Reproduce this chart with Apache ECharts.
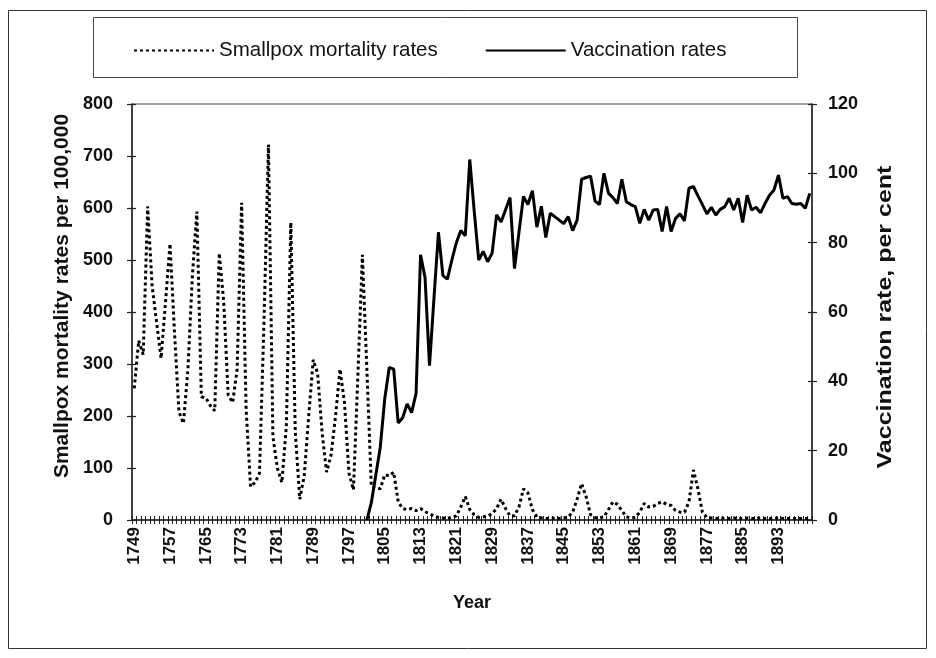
<!DOCTYPE html>
<html><head><meta charset="utf-8">
<script src="https://cdn.jsdelivr.net/npm/echarts@6/dist/echarts.min.js"></script>
<style>html,body{margin:0;padding:0;background:#fff}#c{width:936px;height:658px}</style>
</head><body><div id="c"></div>
<script>
// Categories: every year 1749..1900
const firstYear = 1749, lastYear = 1900;
const years = [];
for (let y = firstYear; y <= lastYear; y++) years.push(String(y));

// Smallpox mortality rates per 100,000 (1749..1900)
const mortality = [
 253,345,318,603,450,380,311,420,531,360,
 208,186,290,470,593,237,235,220,210,513,
 420,240,226,290,610,215,64,72,90,380,
 722,160,100,72,180,572,170,40,85,200,
 308,282,167,92,125,200,290,225,90,58,
 280,510,290,64,62,60,87,85,92,35,
 22,20,22,18,22,16,12,8,5,4,
 3,5,8,25,45,20,10,5,6,8,
 12,22,40,22,8,8,25,60,52,20,
 6,4,3,3,4,3,4,6,15,40,
 70,45,10,5,4,6,20,35,30,18,
 6,4,5,15,32,25,26,32,35,30,
 28,18,15,15,35,96,60,15,5,4,
 3,4,3,3,4,3,3,4,3,3,
 4,3,3,3,4,3,3,3,3,3,
 3,3
];

// Vaccination rates, per cent (1801..1900)
const vaccinationFirstYear = 1801;
const vaccination = [
 0,5,13,21,35,44,43.5,28,29.5,33.5,
 31,36.5,76.5,70,44.5,64,83,70.5,69.5,75,
 80,83.5,82,104,89,75,77.5,74.5,77,88,
 86,89.5,93,72.5,83,93.3,91,95,84.5,90.5,
 81.5,88.5,87.5,86.5,85.5,87.5,83.5,86.5,98.3,98.8,
 99.2,92,91,100,94.3,93,91.3,98.3,91.8,91,
 90.4,85.6,89.6,86.5,89.4,89.6,83.2,90.4,83.2,87,
 88.3,86.3,95.7,96.2,93.5,91,88.3,90.2,88,89.6,
 90.4,92.8,89.4,92.8,85.8,93.7,89.4,90.2,88.6,91.3,
 93.7,95.2,99.5,92.8,93.3,91.3,91.1,91.3,89.9,94.2
];

const leftMax = 800, leftStep = 100;
const rightMax = 120, rightStep = 20;
const labelEvery = 8;
const leftTitle = 'Smallpox mortality rates per 100,000';
const rightTitle = 'Vaccination rate, per cent';

const vaccData = years.map(y => {
  const k = Number(y) - vaccinationFirstYear;
  return (k >= 0 && k < vaccination.length) ? vaccination[k] : null;
});

const FONT = "'Liberation Sans', Arial, sans-serif";
const INK = '#111';

const chart = echarts.init(document.getElementById('c'), null, {renderer: 'canvas'});
chart.setOption({
  animation: false,
  backgroundColor: '#fff',
  textStyle: {fontFamily: FONT, color: INK},
  graphic: [
    {type: 'rect', shape: {x: 8.5, y: 10.5, width: 918, height: 638}, style: {fill: 'none', stroke: '#333', lineWidth: 1}, z: -1},
    {type: 'rect', shape: {x: 93.5, y: 17.5, width: 704, height: 60}, style: {fill: '#fff', stroke: '#444', lineWidth: 1}, z: -1},
    {type: 'text', x: 62, y: 296, rotation: Math.PI / 2, scaleX: 1.05,
     style: {text: leftTitle, font: "bold 20px 'Liberation Sans', Arial, sans-serif", fill: INK, align: 'center', verticalAlign: 'middle'}},
    {type: 'text', x: 885, y: 317, rotation: Math.PI / 2, scaleX: 1.25,
     style: {text: rightTitle, font: "bold 20px 'Liberation Sans', Arial, sans-serif", fill: INK, align: 'center', verticalAlign: 'middle'}}
  ],
  legend: {
    left: 128, top: 35,
    itemWidth: 80, itemHeight: 14, itemGap: 47,
    itemStyle: {color: 'rgba(0,0,0,0)', borderWidth: 0, opacity: 0},
    textStyle: {fontFamily: FONT, fontSize: 20.5, color: INK},
    data: ['Smallpox mortality rates', 'Vaccination rates']
  },
  grid: {left: 132, right: 124, top: 104, bottom: 138, show: true, borderColor: '#444', borderWidth: 1},
  xAxis: [
    {
      type: 'category', data: years, boundaryGap: true,
      axisLine: {lineStyle: {color: '#222', width: 1.5}},
      axisTick: {show: true, interval: 0, length: 4, lineStyle: {color: '#222', width: 1}},
      axisLabel: {interval: labelEvery - 1, rotate: 90, fontSize: 17, fontWeight: 'bold', fontFamily: FONT, color: INK, margin: 7},
      name: 'Year', nameLocation: 'middle', nameGap: 74,
      nameTextStyle: {fontSize: 18, fontWeight: 'bold', fontFamily: FONT, color: INK}
    },
    {
      type: 'category', data: years, boundaryGap: true, position: 'bottom',
      axisLine: {show: false},
      axisTick: {show: true, inside: true, interval: 0, length: 4, lineStyle: {color: '#222', width: 1}},
      axisLabel: {show: false}
    }
  ],
  yAxis: [
    {
      type: 'value', position: 'left', min: 0, max: leftMax, interval: leftStep,
      splitLine: {show: false},
      axisLine: {show: true, lineStyle: {color: '#222', width: 1.5}},
      axisTick: {show: true, length: 5, lineStyle: {color: '#222', width: 1.2}},
      axisLabel: {fontSize: 18, fontWeight: 'bold', fontFamily: FONT, color: INK, margin: 19}
    },
    {
      type: 'value', position: 'right', min: 0, max: rightMax, interval: rightStep,
      splitLine: {show: false},
      axisLine: {show: true, lineStyle: {color: '#222', width: 1.5}},
      axisTick: {show: true, length: 5, lineStyle: {color: '#222', width: 1.2}},
      axisLabel: {fontSize: 18, fontWeight: 'bold', fontFamily: FONT, color: INK, margin: 16}
    },
    {
      type: 'value', position: 'left', min: 0, max: leftMax, interval: leftStep,
      splitLine: {show: false}, axisLine: {show: false}, axisLabel: {show: false},
      axisTick: {show: true, inside: true, length: 4, lineStyle: {color: '#222', width: 1.2}}
    },
    {
      type: 'value', position: 'right', min: 0, max: rightMax, interval: rightStep,
      splitLine: {show: false}, axisLine: {show: false}, axisLabel: {show: false},
      axisTick: {show: true, inside: true, length: 4, lineStyle: {color: '#222', width: 1.2}}
    }
  ],
  series: [
    {
      name: 'Smallpox mortality rates', type: 'line', xAxisIndex: 0, yAxisIndex: 0,
      data: mortality, symbol: 'none',
      lineStyle: {color: '#000', width: 3, type: [3, 3]},
      itemStyle: {color: '#000'}, z: 3
    },
    {
      name: 'Vaccination rates', type: 'line', xAxisIndex: 0, yAxisIndex: 1,
      data: vaccData, symbol: 'none', connectNulls: false,
      lineStyle: {color: '#000', width: 3},
      itemStyle: {color: '#000'}, z: 4
    }
  ]
});
</script>
</body></html>
